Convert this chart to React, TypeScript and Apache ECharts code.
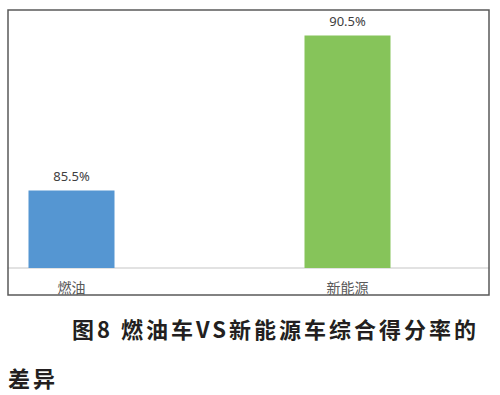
import React, { useEffect, useRef } from "react";
import * as echarts from "echarts";

const categories = ["燃油", "新能源"];
const scores = [85.5, 90.5];
const barColors = ["#5596d2", "#86c45a"];
const yMin = 83;
const yMax = 91.5;
const captionLine1 = "图8 燃油车VS新能源车综合得分率的";
const captionLine2 = "差异";

const CJK = '"Noto Sans CJK SC", "Noto Sans", sans-serif';

export default function App() {
  const ref = useRef<HTMLDivElement>(null);

  useEffect(() => {
    if (!ref.current) return;
    const chart = echarts.init(ref.current, undefined, { renderer: "svg" });

    const applySpacing = () => {
      if (!ref.current) return;
      const texts = ref.current.querySelectorAll("text");
      texts.forEach((t) => {
        const c = t.textContent || "";
        if (c === captionLine1 || c === captionLine2) {
          t.setAttribute("letter-spacing", "3");
          (t as any).style.letterSpacing = "3px";
        }
      });
    };

    chart.setOption({
      animation: false,
      backgroundColor: "#ffffff",
      grid: [
        { left: 8, right: 11, top: 10, height: 258, show: false },
        { left: 71.5, right: 152.5, top: 4.5, height: 263.5, show: false },
      ],
      xAxis: [
        {
          type: "category",
          gridIndex: 0,
          data: categories.map(() => ""),
          axisLine: { show: true, lineStyle: { color: "#d9d9d9", width: 1.5 } },
          axisTick: { show: false },
          axisLabel: { show: false },
          splitLine: { show: false },
        },
        {
          type: "category",
          gridIndex: 1,
          boundaryGap: false,
          data: categories,
          axisLine: { show: false },
          axisTick: { show: false },
          splitLine: { show: false },
          axisLabel: {
            color: "#595959",
            fontSize: 14,
            fontFamily: CJK,
            margin: 12,
          },
        },
      ],
      yAxis: [
        { type: "value", gridIndex: 0, show: false },
        { type: "value", gridIndex: 1, show: false, min: yMin, max: yMax },
      ],
      series: [
        {
          type: "bar",
          xAxisIndex: 1,
          yAxisIndex: 1,
          barWidth: 86,
          data: scores.map((v, i) => ({ value: v, itemStyle: { color: barColors[i] } })),
          label: {
            show: true,
            position: "top",
            distance: 8,
            color: "#404040",
            fontSize: 13,
            fontFamily: '"Noto Sans", sans-serif',
            formatter: (p: any) => p.value.toFixed(1) + "%",
          },
        },
      ],
      graphic: [
        {
          type: "rect",
          z: 100,
          shape: { x: 8, y: 10, width: 481, height: 285 },
          style: { fill: "none", stroke: "#595959", lineWidth: 1.5 },
        },
        {
          type: "text",
          x: 72,
          y: 328,
          style: {
            text: captionLine1,
            fontSize: 22,
            fontWeight: "bold",
            fontFamily: CJK,
            fill: "#231f20",
            align: "left",
            verticalAlign: "middle",
            textAlign: "left",
            textVerticalAlign: "middle",
          },
        },
        {
          type: "text",
          x: 8,
          y: 377,
          style: {
            text: captionLine2,
            fontSize: 22,
            fontWeight: "bold",
            fontFamily: CJK,
            fill: "#231f20",
            align: "left",
            verticalAlign: "middle",
            textAlign: "left",
            textVerticalAlign: "middle",
          },
        },
      ],
    });

    chart.on("finished", applySpacing);
    (chart.getZr() as any).flush?.();
    applySpacing();
    const t1 = setTimeout(applySpacing, 50);
    const t2 = setTimeout(applySpacing, 300);

    return () => {
      clearTimeout(t1);
      clearTimeout(t2);
      chart.dispose();
    };
  }, []);

  return (
    <div
      ref={ref}
      style={{ position: "fixed", left: 0, top: 0, width: 500, height: 395 }}
    />
  );
}
